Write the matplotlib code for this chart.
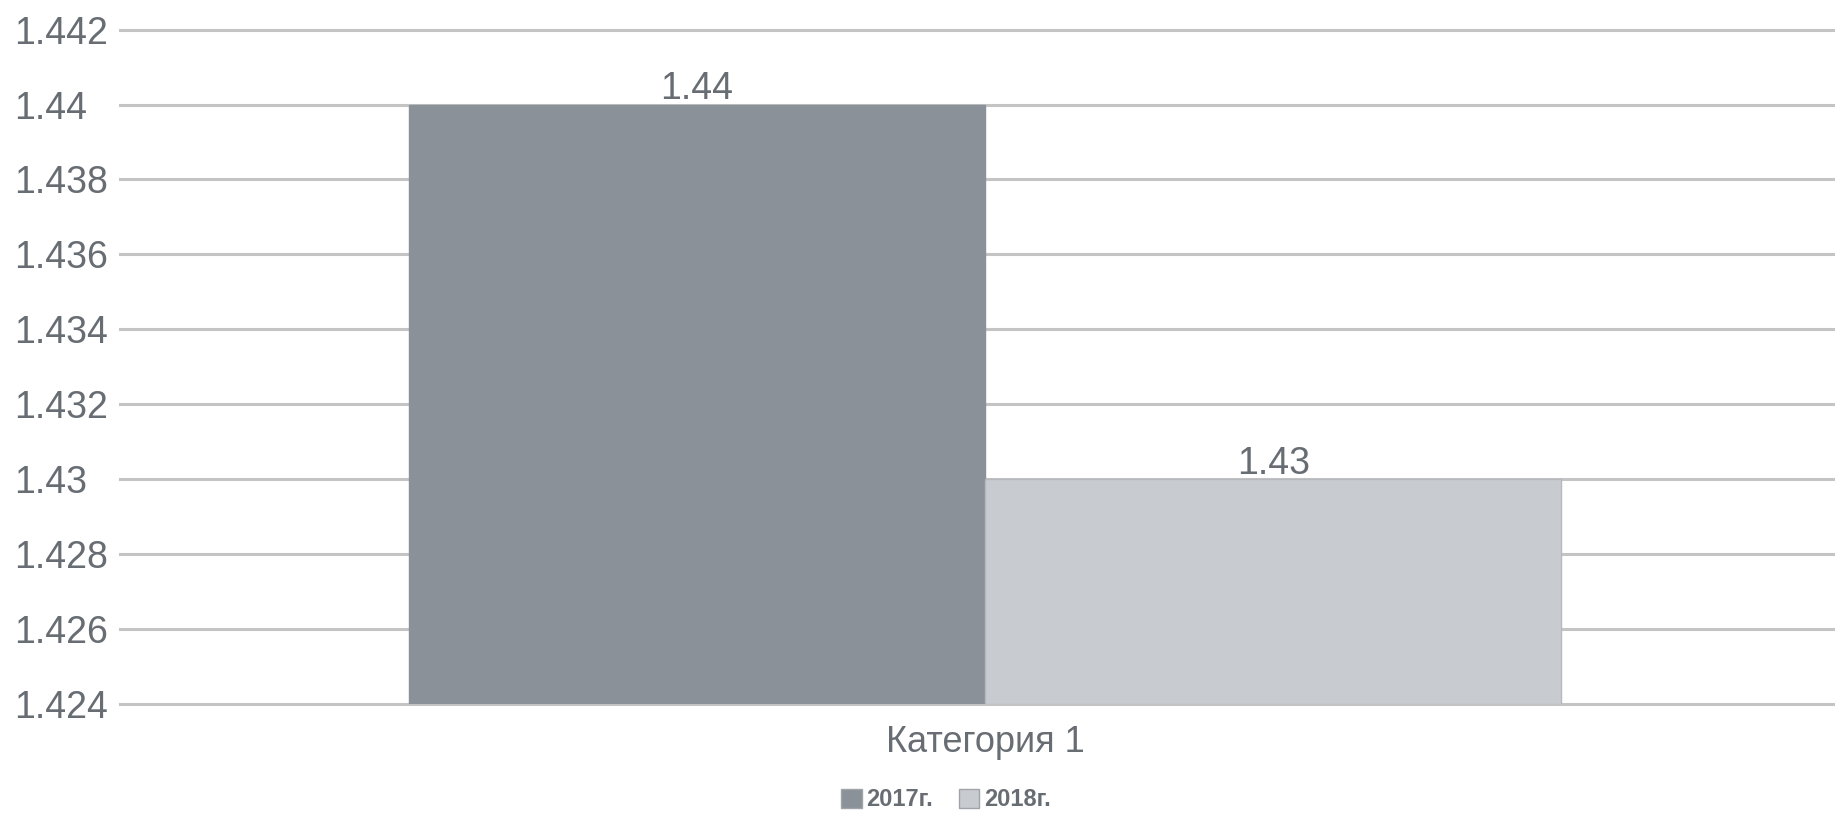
import matplotlib.pyplot as plt
from matplotlib.patches import Patch

plt.rcParams['font.family'] = ['Liberation Sans', 'DejaVu Sans']

category = "Категория 1"
series = ["2017г.", "2018г."]
values = [1.44, 1.43]
colors = ["#8a9199", "#c8ccd0"]
yticks = [1.424, 1.426, 1.428, 1.43, 1.432, 1.434, 1.436, 1.438, 1.44, 1.442]

text_color = "#676d73"
grid_color = "#c4c4c4"

fig = plt.figure(figsize=(18.35, 8.15), dpi=100)
ax = fig.add_axes([120 / 1835, 0.1356, 1 - 120 / 1835, 0.9638 - 0.1356])

offsets = [-0.25, 0.25]
for off, v, c, name in zip(offsets, values, colors, series):
    ax.bar(off, v - yticks[0], bottom=yticks[0], width=0.5, color=c,
           edgecolor="#b5b9bd" if c == colors[1] else c, linewidth=1, zorder=3)
    ax.annotate(f"{v:g}", (off, v), xytext=(0, 4), textcoords="offset points",
                ha="center", va="baseline", fontsize=27, color=text_color, zorder=4)

ax.set_xlim(-0.7505, 0.7375)
ax.set_ylim(yticks[0], yticks[-1])
ax.set_yticks(yticks)
ax.set_yticklabels([f"{t:g}" for t in yticks])
ax.set_xticks([0])
ax.set_xticklabels([category])

ax.grid(axis="y", color=grid_color, linewidth=2.2, zorder=0)
for gl in ax.get_ygridlines():
    gl.set_clip_on(False)
ax.set_axisbelow(True)
for s in ax.spines.values():
    s.set_visible(False)
ax.tick_params(axis="y", length=0, pad=76, labelsize=27, labelcolor=text_color)
ax.tick_params(axis="x", length=0, pad=15, labelsize=26, labelcolor=text_color)
for lbl in ax.get_yticklabels():
    lbl.set_horizontalalignment("left")

handles = [Patch(facecolor=c, edgecolor="#a0a4a8", label=s) for c, s in zip(colors, series)]
leg = fig.legend(handles=handles, loc="center", bbox_to_anchor=(946 / 1835, 1 - 800 / 815),
                 ncol=2, frameon=False, fontsize=17, handlelength=0.85, handleheight=0.85,
                 handletextpad=0.2, columnspacing=1.1)
for t in leg.get_texts():
    t.set_color(text_color)
    t.set_fontweight("bold")

fig.savefig("out.png", dpi=100)
